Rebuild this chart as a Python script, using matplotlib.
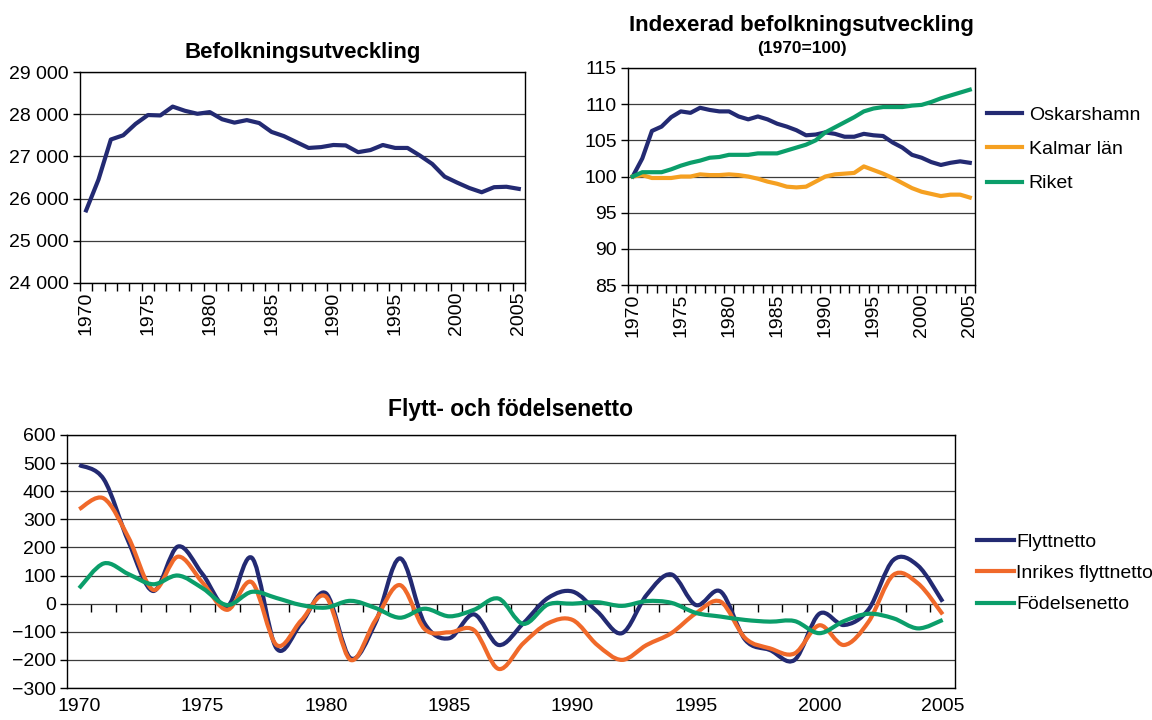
import matplotlib
matplotlib.use("Agg")
import numpy as np
from matplotlib import pyplot as plt
from matplotlib.path import Path
from matplotlib.patches import PathPatch
from matplotlib.ticker import FuncFormatter

plt.rcParams["font.family"] = ["Liberation Sans", "DejaVu Sans"]

years = list(range(1970, 2006))

# Befolkningsutveckling, Oskarshamn
befolkning = [25720, 26450, 27400, 27500, 27770, 27980, 27970, 28180, 28080, 28010,
              28050, 27880, 27800, 27860, 27790, 27580, 27480, 27340, 27200, 27220,
              27270, 27260, 27100, 27150, 27270, 27200, 27200, 27020, 26820, 26520,
              26380, 26250, 26150, 26270, 26280, 26230]

# Indexerad befolkningsutveckling (1970=100)
idx_oskarshamn = [100.0, 102.5, 106.3, 106.9, 108.2, 109.0, 108.8, 109.5, 109.2, 109.0,
                  109.0, 108.3, 107.9, 108.3, 107.9, 107.3, 106.9, 106.4, 105.7, 105.8,
                  106.1, 105.9, 105.5, 105.5, 105.9, 105.7, 105.6, 104.7, 104.0, 103.0,
                  102.6, 102.0, 101.6, 101.9, 102.1, 101.9]
idx_kalmar = [100.0, 100.2, 99.8, 99.8, 99.8, 100.0, 100.0, 100.3, 100.2, 100.2,
              100.3, 100.2, 100.0, 99.7, 99.3, 99.0, 98.6, 98.5, 98.6, 99.3,
              100.0, 100.3, 100.4, 100.5, 101.4, 100.9, 100.4, 99.8, 99.1, 98.4,
              97.9, 97.6, 97.3, 97.5, 97.5, 97.1]
idx_riket = [100.0, 100.6, 100.6, 100.6, 101.0, 101.5, 101.9, 102.2, 102.6, 102.7,
             103.0, 103.0, 103.0, 103.2, 103.2, 103.2, 103.6, 104.0, 104.4, 105.0,
             106.1, 106.8, 107.5, 108.2, 109.0, 109.4, 109.6, 109.6, 109.6, 109.8,
             109.9, 110.3, 110.8, 111.2, 111.6, 112.0]

# Flytt- och födelsenetto
flyttnetto = [493, 442, 220, 45, 203, 105, -10, 163, -159, -70,
              37, -194, -70, 161, -70, -123, -38, -147, -70, 20,
              43, -28, -105, 31, 104, -5, 43, -129, -165, -200,
              -36, -76, -20, 155, 135, 7]
inrikes = [336, 374, 235, 49, 167, 75, -22, 76, -147, -60,
           25, -200, -60, 66, -90, -102, -94, -232, -141, -70,
           -58, -147, -200, -147, -105, -34, 7, -123, -159, -177,
           -77, -147, -64, 102, 72, -38]
fodelse = [55, 143, 105, 69, 100, 55, -5, 42, 20, -5,
           -14, 10, -15, -50, -18, -45, -22, 18, -72, -3,
           0, 5, -8, 9, 3, -33, -46, -58, -64, -62,
           -105, -62, -36, -52, -88, -58]

NAVY = "#232a72"
ORANGE_TOP = "#f5a021"
ORANGE_BOT = "#f0692a"
GREEN = "#0b9e6a"
GRID = "#3c3c3c"
LW = 3.0
FS = 14

x = np.arange(len(years))
label_pos = [i for i, y in enumerate(years) if y % 5 == 0]
label_txt = [str(years[i]) for i in label_pos]


def smooth_line(ax, xs, ys, color, label):
    # Excel-style smoothed line: bezier segments through the data points
    pts = np.column_stack([xs, ys]).astype(float)
    verts, codes = [pts[0]], [Path.MOVETO]
    n = len(pts)
    for i in range(n - 1):
        p0 = pts[max(i - 1, 0)]
        p1, p2 = pts[i], pts[i + 1]
        p3 = pts[min(i + 2, n - 1)]
        verts += [p1 + (p2 - p0) / 6, p2 - (p3 - p1) / 6, p2]
        codes += [Path.CURVE4] * 3
    ax.add_patch(PathPatch(Path(verts, codes), fill=False, edgecolor=color, lw=LW,
                           capstyle="butt", joinstyle="round"))
    ax.plot([], [], color=color, lw=LW, label=label)


def style_axes(ax, ymin, ymax, step, rot=True):
    ax.set_xlim(-0.5, len(years) - 0.5)
    ax.set_ylim(ymin, ymax)
    ax.set_yticks(np.arange(ymin, ymax + step / 2, step))
    ax.yaxis.grid(True, color=GRID, linewidth=0.9)
    ax.set_axisbelow(True)
    for s in ax.spines.values():
        s.set_color("black")
        s.set_linewidth(1.0)
    ax.tick_params(axis="y", labelsize=FS, length=5, width=1, pad=3)
    if rot:
        ax.set_xticks(label_pos)
        ax.set_xticklabels(label_txt, rotation=90, fontsize=FS)
        ax.set_xticks(np.arange(-0.5, len(years), 1), minor=True)
        ax.tick_params(axis="x", which="major", length=0, pad=6)
        ax.tick_params(axis="x", which="minor", length=6, width=1)


fig = plt.figure(figsize=(11.52, 7.2), dpi=100)

# --- top left
ax1 = fig.add_axes([0.0694, 0.607, 0.3863, 0.293])
ax1.plot(x, befolkning, color=NAVY, lw=LW, solid_joinstyle="round")
style_axes(ax1, 24000, 29000, 1000)
ax1.yaxis.set_major_formatter(FuncFormatter(lambda v, p: f"{int(v):,}".replace(",", " ")))
fig.text(0.263, 0.927, "Befolkningsutveckling", ha="center", va="center",
         fontsize=16, fontweight="bold")

# --- top right
ax2 = fig.add_axes([0.545, 0.604, 0.301, 0.3016])
ax2.plot(x, idx_oskarshamn, color=NAVY, lw=LW, label="Oskarshamn")
ax2.plot(x, idx_kalmar, color=ORANGE_TOP, lw=LW, label="Kalmar län")
ax2.plot(x, idx_riket, color=GREEN, lw=LW, label="Riket")
style_axes(ax2, 85, 115, 5)
fig.text(0.696, 0.964, "Indexerad befolkningsutveckling", ha="center", va="center",
         fontsize=16, fontweight="bold")
fig.text(0.696, 0.933, "(1970=100)", ha="center", va="center",
         fontsize=12.5, fontweight="bold")
ax2.legend(loc="upper left", bbox_to_anchor=(0.850, 0.863), bbox_transform=fig.transFigure,
           frameon=False, fontsize=FS, handlelength=1.8, handletextpad=0.35,
           labelspacing=0.85, borderaxespad=0)

# --- bottom
ax3 = fig.add_axes([0.058, 0.0444, 0.771, 0.3516])
smooth_line(ax3, x, flyttnetto, NAVY, "Flyttnetto")
smooth_line(ax3, x, inrikes, ORANGE_BOT, "Inrikes flyttnetto")
smooth_line(ax3, x, fodelse, GREEN, "Födelsenetto")
style_axes(ax3, -300, 600, 100, rot=False)
ax3.set_xticks(label_pos)
ax3.set_xticklabels(label_txt, fontsize=FS)
ax3.tick_params(axis="x", length=0, pad=7)
sec = ax3.secondary_xaxis(1 / 3)
sec.set_xticks(np.arange(0.5, len(years) - 1, 1))
sec.set_xticklabels([])
sec.tick_params(axis="x", direction="out", length=6, width=1, color="black")
sec.spines["bottom"].set_visible(False)
sec.spines["top"].set_visible(False)
fig.text(0.443, 0.431, "Flytt- och födelsenetto", ha="center", va="center",
         fontsize=16.5, fontweight="bold")
ax3.legend(loc="upper left", bbox_to_anchor=(0.841, 0.270), bbox_transform=fig.transFigure,
           frameon=False, fontsize=FS, handlelength=1.9, handletextpad=0.15,
           labelspacing=0.7, borderaxespad=0)

fig.savefig("out.png", dpi=100)
